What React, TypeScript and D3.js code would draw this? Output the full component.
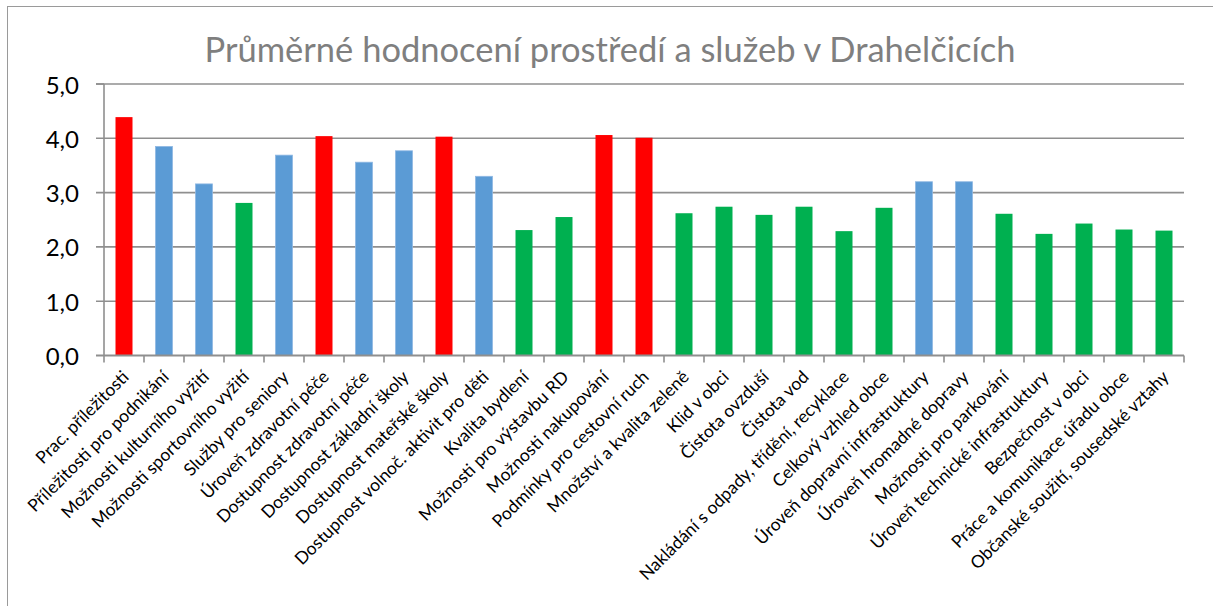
import * as React from 'react';
import * as d3 from 'd3';

const title = 'Průměrné hodnocení prostředí a služeb v Drahelčicích';

const categories = [
  'Prac. příležitosti',
  'Příležitosti pro podnikání',
  'Možnosti kulturního vyžití',
  'Možnosti sportovního vyžití',
  'Služby pro seniory',
  'Úroveň zdravotní péče',
  'Dostupnost zdravotní péče',
  'Dostupnost základní školy',
  'Dostupnost mateřské školy',
  'Dostupnost volnoč. aktivit pro děti',
  'Kvalita bydlení',
  'Možnosti pro výstavbu RD',
  'Možnosti nakupování',
  'Podmínky pro cestovní ruch',
  'Množství a kvalita zeleně',
  'Klid v obci',
  'Čistota ovzduší',
  'Čistota vod',
  'Nakládání s odpady, třídění, recyklace',
  'Celkový vzhled obce',
  'Úroveň dopravní infrastruktury',
  'Úroveň hromadné dopravy',
  'Možnosti pro parkování',
  'Úroveň technické infrastruktury',
  'Bezpečnost v obci',
  'Práce a komunikace úřadu obce',
  'Občanské soužití, sousedské vztahy',
];

const values = [
  4.39, 3.85, 3.16, 2.81, 3.69, 4.04, 3.56, 3.77, 4.03, 3.3, 2.31, 2.55, 4.06, 4.01,
  2.62, 2.74, 2.59, 2.74, 2.29, 2.72, 3.2, 3.2, 2.61, 2.24, 2.43, 2.32, 2.3,
];

// r = red, b = blue, g = green
const groups = [
  'r', 'b', 'b', 'g', 'b', 'r', 'b', 'b', 'r', 'b', 'g', 'g', 'r', 'r',
  'g', 'g', 'g', 'g', 'g', 'g', 'b', 'b', 'g', 'g', 'g', 'g', 'g',
];

const yTicks = [0, 1, 2, 3, 4, 5];

const width = 1213;
const height = 606;
const left = 104;
const right = 1184;
const top = 84;
const bottom = 355.5;
const font = 'Lato, Carlito, Calibri, sans-serif';

export default function App() {
  const x = d3.scaleBand<string>()
    .domain(categories)
    .range([left, right])
    .paddingInner(0.575)
    .paddingOuter(0.2875);

  const step = (right - left) / categories.length;

  const y = d3.scaleLinear().domain([0, 5]).range([bottom, top]);

  const color = d3.scaleOrdinal<string, string>()
    .domain(['r', 'b', 'g'])
    .range(['#ff0000', '#5b9bd5', '#00b050']);

  const fmt = (v: number) => d3.format('.1f')(v).replace('.', ',');

  return (
    <svg width={width} height={height} style={{ position: 'absolute', left: 0, top: 0 }}>
      <rect x={0} y={0} width={width} height={height} fill="#fff" />
      <rect x={7.5} y={6.5} width={width + 20} height={height + 20} fill="none" stroke="#9a9a9a" strokeWidth={1} />

      <text x={610} y={62} textAnchor="middle" fontFamily={font} fontSize={34.5} fill="#7f7f7f">
        {title}
      </text>

      {yTicks.map((t) => (
        <g key={t}>
          {t > 0 && (
            <line x1={left - 8} x2={right} y1={y(t)} y2={y(t)} stroke="#8f8f8f" strokeWidth={1.6} />
          )}
          <text x={79} y={y(t) + 9.5} textAnchor="end" fontFamily={font} fontSize={24} fill="#000">
            {fmt(t)}
          </text>
        </g>
      ))}

      {categories.map((c, i) => (
        <rect
          key={c}
          x={x(c)}
          y={y(values[i])}
          width={x.bandwidth()}
          height={bottom - y(values[i])}
          fill={color(groups[i])}
          stroke={groups[i] === 'b' ? '#8fb8e3' : 'none'}
          strokeWidth={groups[i] === 'b' ? 0.8 : 0}
        />
      ))}

      {/* axes */}
      <line x1={left} x2={left} y1={top} y2={bottom} stroke="#8f8f8f" strokeWidth={1.6} />
      <line x1={left - 8} x2={left} y1={top} y2={top} stroke="#8f8f8f" strokeWidth={1.6} />
      <line x1={left - 8} x2={right} y1={bottom} y2={bottom} stroke="#8f8f8f" strokeWidth={2} />
      {d3.range(categories.length + 1).map((i) => (
        <line
          key={i}
          x1={left + i * step}
          x2={left + i * step}
          y1={bottom}
          y2={bottom + 7}
          stroke="#8f8f8f"
          strokeWidth={1.6}
        />
      ))}

      {categories.map((c) => {
        const cx = (x(c) as number) + x.bandwidth() / 2;
        return (
          <text
            key={c}
            transform={`translate(${cx + 6},${378}) rotate(-45)`}
            textAnchor="end"
            fontFamily={font}
            fontSize={17.5}
            fill="#000"
          >
            {c}
          </text>
        );
      })}
    </svg>
  );
}
